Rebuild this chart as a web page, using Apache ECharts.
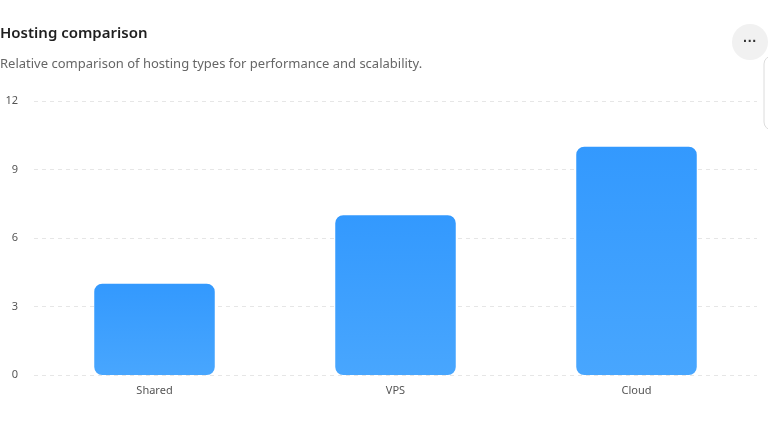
<!DOCTYPE html>
<html>
<head>
<meta charset="utf-8">
<script src="https://cdn.jsdelivr.net/npm/echarts@6/dist/echarts.min.js"></script>
<style>
  html, body { margin: 0; padding: 0; background: #fff; }
  #chart { width: 768px; height: 432px; }
</style>
</head>
<body>
<div id="chart"></div>
<script>
var categories = ['Shared', 'VPS', 'Cloud'];
var scores = [4, 7, 10];
var yTicks = [0, 3, 6, 9, 12];

var chart = echarts.init(document.getElementById('chart'));

var option = {
    textStyle: { fontFamily: 'Noto Sans' },
    title: [
        {
            text: 'Hosting comparison',
            left: 0,
            top: 26,
            padding: 0,
            textStyle: { fontSize: 15, fontWeight: 600, color: '#1f1f1f', fontFamily: 'Noto Sans' }
        },
        {
            text: 'Relative comparison of hosting types for performance and scalability.',
            left: 0,
            top: 58,
            padding: 0,
            textStyle: { fontSize: 13, fontWeight: 'normal', color: '#666', fontFamily: 'Noto Sans' }
        }
    ],
    grid: {
        left: 34,
        right: 11,
        top: 101,
        bottom: 57
    },
    xAxis: {
        type: 'category',
        data: categories,
        axisLine: { show: false },
        axisTick: { show: false },
        axisLabel: { color: '#555', fontSize: 11, margin: 10 }
    },
    yAxis: {
        type: 'value',
        min: yTicks[0],
        max: yTicks[yTicks.length - 1],
        interval: 3,
        axisLine: { show: false },
        axisTick: { show: false },
        axisLabel: { color: '#555', fontSize: 11, margin: 16 },
        splitLine: {
            lineStyle: { color: '#e6e6e6', type: [4, 4] }
        }
    },
    series: [
        {
            type: 'bar',
            data: scores,
            barWidth: '50%',
            itemStyle: {
                borderRadius: 8,
                color: new echarts.graphic.LinearGradient(0, 0, 0, 1, [
                    { offset: 0, color: '#3399fe' },
                    { offset: 1, color: '#48a6fe' }
                ])
            }
        }
    ],
    graphic: [
        {
            type: 'circle',
            shape: { cx: 750, cy: 42, r: 18 },
            style: { fill: '#f1f1f1' }
        },
        {
            type: 'text',
            x: 750,
            y: 42,
            style: { text: '···', fill: '#333', fontSize: 14, fontWeight: 'bold', align: 'center', verticalAlign: 'middle' }
        },
        {
            type: 'rect',
            shape: { x: 764, y: 56, width: 40, height: 74, r: 8 },
            style: { fill: '#fff', stroke: '#dcdcdc', lineWidth: 1 }
        }
    ]
};

chart.setOption(option);
</script>
</body>
</html>
